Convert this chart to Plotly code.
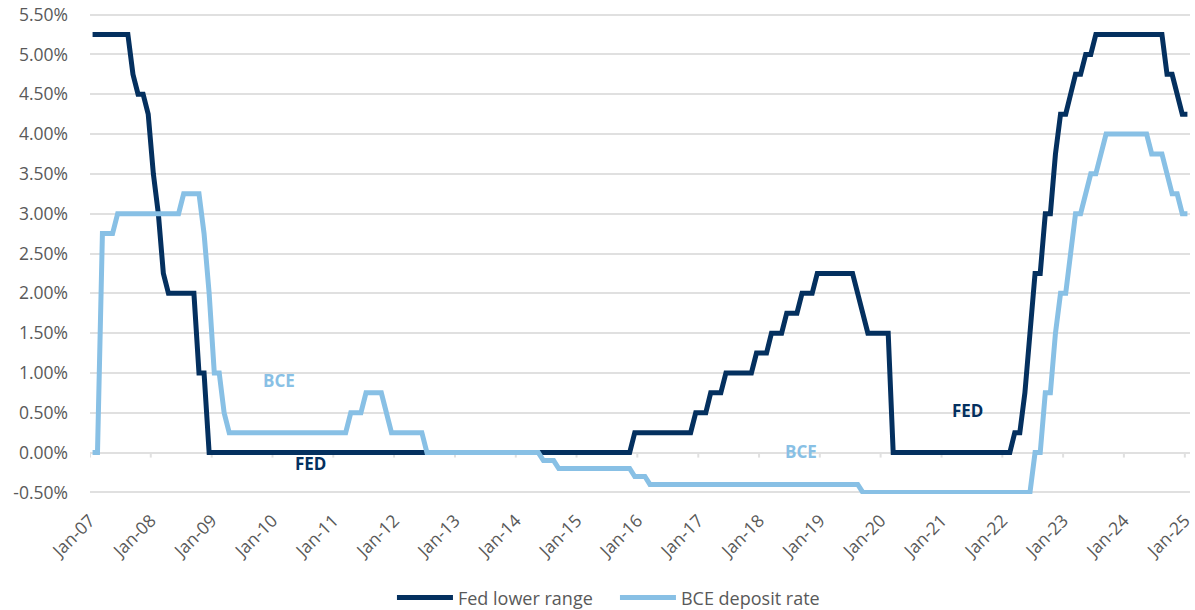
import plotly.graph_objects as go

# ---- data (percent) : vertices of monthly series ----
fed_dates = ["2007-01", "2007-08", "2007-09", "2007-10", "2007-11", "2007-12",
             "2008-01", "2008-02", "2008-03", "2008-04", "2008-09", "2008-10",
             "2008-11", "2008-12", "2015-11", "2015-12", "2016-11", "2016-12",
             "2017-02", "2017-03", "2017-05", "2017-06", "2017-11", "2017-12",
             "2018-02", "2018-03", "2018-05", "2018-06", "2018-08", "2018-09",
             "2018-11", "2018-12", "2019-07", "2019-08", "2019-09", "2019-10",
             "2020-02", "2020-03", "2022-02", "2022-03", "2022-04", "2022-05",
             "2022-06", "2022-07", "2022-08", "2022-09", "2022-10", "2022-11",
             "2022-12", "2023-01", "2023-02", "2023-03", "2023-04", "2023-05",
             "2023-06", "2023-07", "2024-08", "2024-09", "2024-10", "2024-11",
             "2024-12", "2025-01"]
fed_values = [5.25, 5.25, 4.75, 4.5, 4.5, 4.25,
              3.5, 3.0, 2.25, 2.0, 2.0, 1.0,
              1.0, 0.0, 0.0, 0.25, 0.25, 0.5,
              0.5, 0.75, 0.75, 1.0, 1.0, 1.25,
              1.25, 1.5, 1.5, 1.75, 1.75, 2.0,
              2.0, 2.25, 2.25, 2.0, 1.75, 1.5,
              1.5, 0.0, 0.0, 0.25, 0.25, 0.75,
              1.5, 2.25, 2.25, 3.0, 3.0, 3.75,
              4.25, 4.25, 4.5, 4.75, 4.75, 5.0,
              5.0, 5.25, 5.25, 4.75, 4.75, 4.5,
              4.25, 4.25]

bce_dates = ["2007-01", "2007-02", "2007-03", "2007-05", "2007-06", "2008-06",
             "2008-07", "2008-10", "2008-11", "2008-12", "2009-01", "2009-02",
             "2009-03", "2009-04", "2011-03", "2011-04", "2011-06", "2011-07",
             "2011-10", "2011-11", "2011-12", "2012-06", "2012-07", "2014-05",
             "2014-06", "2014-08", "2014-09", "2015-11", "2015-12", "2016-02",
             "2016-03", "2019-08", "2019-09", "2022-06", "2022-07", "2022-08",
             "2022-09", "2022-10", "2022-11", "2022-12", "2023-01", "2023-02",
             "2023-03", "2023-04", "2023-05", "2023-06", "2023-07", "2023-08",
             "2023-09", "2024-05", "2024-06", "2024-08", "2024-09", "2024-10",
             "2024-11", "2024-12", "2025-01"]
bce_values = [0.0, 0.0, 2.75, 2.75, 3.0, 3.0,
              3.25, 3.25, 2.75, 2.0, 1.0, 1.0,
              0.5, 0.25, 0.25, 0.5, 0.5, 0.75,
              0.75, 0.5, 0.25, 0.25, 0.0, 0.0,
              -0.1, -0.1, -0.2, -0.2, -0.3, -0.3,
              -0.4, -0.4, -0.5, -0.5, 0.0, 0.0,
              0.75, 0.75, 1.5, 2.0, 2.0, 2.5,
              3.0, 3.0, 3.25, 3.5, 3.5, 3.75,
              4.0, 4.0, 3.75, 3.75, 3.5, 3.25,
              3.25, 3.0, 3.0]

series_names = ["Fed lower range", "BCE deposit rate"]
x_ticks = [f"{y}-01-01" for y in range(2007, 2026)]
y_ticks = [-0.5, 0, 0.5, 1.0, 1.5, 2.0, 2.5, 3.0, 3.5, 4.0, 4.5, 5.0, 5.5]
y_tick_labels = [f"{v:.2f}%" for v in y_ticks]

label_texts = ["BCE", "FED", "BCE", "FED"]
label_x = ["2010-02-12", "2010-08-20", "2018-09-10", "2021-06-04"]
label_y = [0.9, -0.14, 0.01, 0.53]

NAVY = "#04305F"
LIGHT = "#88C0E5"
GRID = "#E0E0E0"
TXT = "#595959"
FONT = "Open Sans"
label_colors = [LIGHT, NAVY, LIGHT, NAVY]

fig = go.Figure()
fig.add_trace(go.Scatter(x=fed_dates, y=fed_values, mode="lines", name=series_names[0],
                         xperiod="M1", xperiodalignment="middle",
                         line=dict(color=NAVY, width=5)))
fig.add_trace(go.Scatter(x=bce_dates, y=bce_values, mode="lines", name=series_names[1],
                         xperiod="M1", xperiodalignment="middle",
                         line=dict(color=LIGHT, width=5)))

for t, xx, yy, c in zip(label_texts, label_x, label_y, label_colors):
    fig.add_annotation(x=xx, y=yy, text=t, showarrow=False,
                       font=dict(family=FONT, size=17, color=c, weight="bold"))

# small tick marks on the zero line
for xt in x_ticks:
    fig.add_shape(type="line", xref="x", yref="y", x0=xt, x1=xt,
                  ysizemode="pixel", yanchor=0, y0=0, y1=-5,
                  line=dict(color=GRID, width=2), layer="below")

fig.update_layout(
    width=1195, height=610,
    margin=dict(l=90, r=0, t=13, b=116),
    plot_bgcolor="white", paper_bgcolor="white",
    font=dict(family=FONT, size=18, color=TXT),
    showlegend=True,
    legend=dict(orientation="h", xref="container", yref="container",
                x=0.328, xanchor="left", y=0.02, yanchor="middle",
                entrywidth=152, entrywidthmode="pixels",
                font=dict(family=FONT, size=18, color=TXT), itemwidth=56),
)
fig.update_xaxes(type="date", range=["2007-01-01", "2025-02-01"],
                 tickvals=x_ticks, tickformat="%b-%y", tickangle=-45,
                 showgrid=False, showline=False, zeroline=False, ticks="",
                 ticklabeloverflow="allow", ticklabelstandoff=12,
                 tickfont=dict(family=FONT, size=17.5, color=TXT))
fig.update_yaxes(range=[-0.52, 5.52], tickvals=y_ticks, ticktext=y_tick_labels,
                 showgrid=True, gridcolor=GRID, gridwidth=2, zeroline=False,
                 showline=False, ticks="", ticklabelstandoff=21,
                 tickfont=dict(family=FONT, size=17.5, color=TXT))

fig.write_html("out.html", config={"displayModeBar": False},
               post_script="document.body.style.margin='0';")
